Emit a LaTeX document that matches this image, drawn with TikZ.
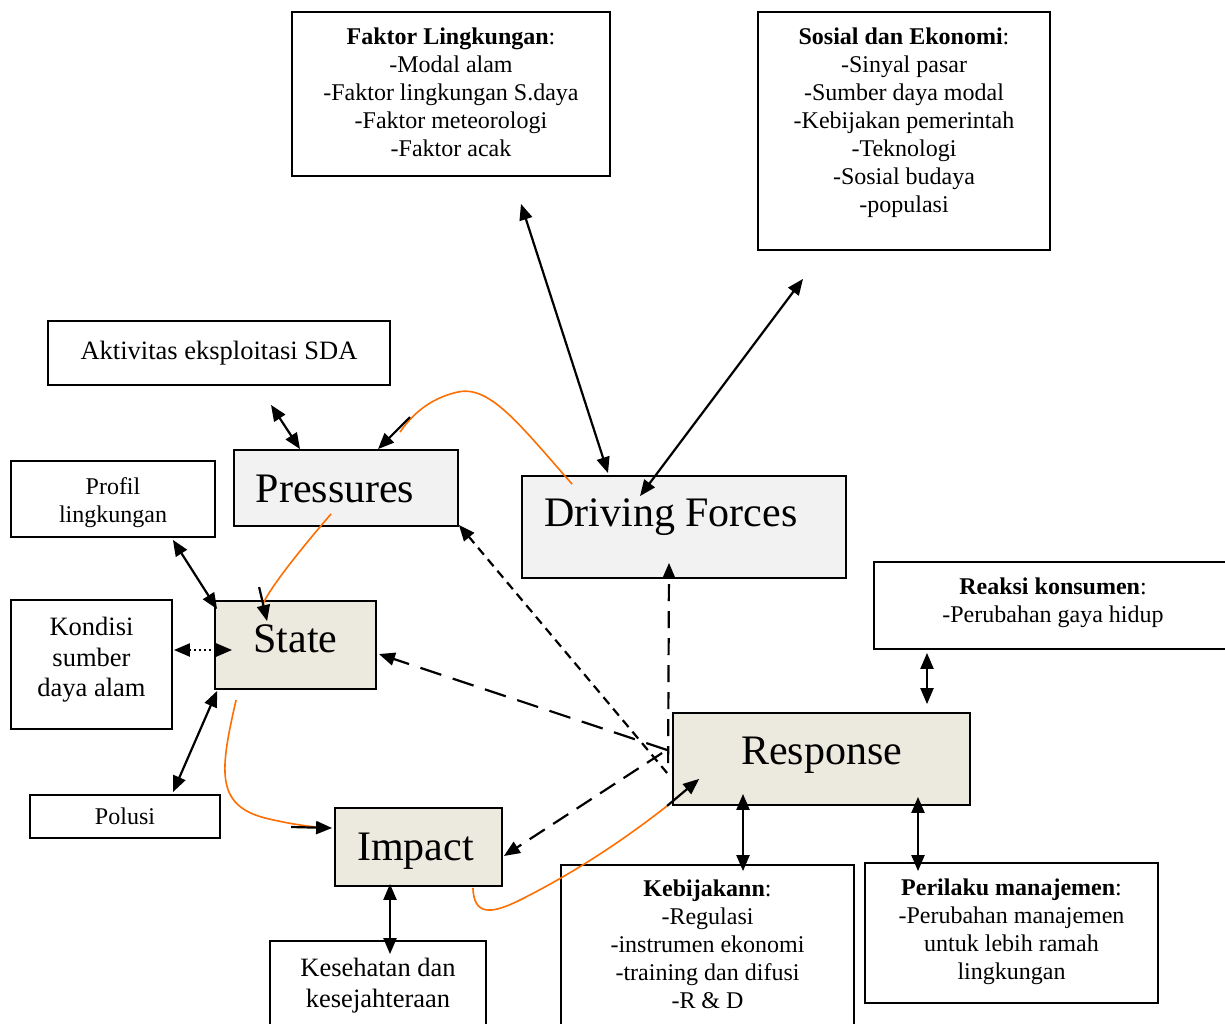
\documentclass[tikz,border=0pt]{standalone}
\usepackage{fontspec}
\setmainfont{Liberation Serif}
\usetikzlibrary{arrows.meta,calc}

\definecolor{boxgray}{RGB}{242,242,242}
\definecolor{boxtan}{RGB}{236,233,222}
\definecolor{curveorange}{RGB}{255,110,0}

\tikzset{
    box/.style={draw,line width=1.8pt,inner sep=0pt,rectangle},
    graybox/.style={box,fill=boxgray},
    tanbox/.style={box,fill=boxtan},
    txt/.style={font=\fontsize{24}{28}\selectfont,align=center,inner sep=0pt},
    midtxt/.style={font=\fontsize{26.5}{30.5}\selectfont,align=center,inner sep=0pt},
    bigtxt/.style={font=\fontsize{42}{48}\selectfont,inner sep=0pt},
    link/.style={line width=2.2pt,>={Triangle[length=16pt,width=13pt]}},
    orangeline/.style={line width=1.6pt,curveorange},
}

\begin{document}
\begin{tikzpicture}[x=1pt,y=-1pt]

\useasboundingbox (0,0) rectangle (1225,1024);

% Top boxes with their lists.
\node[box,minimum width=318pt,minimum height=164pt] (faktor) at (451,94) {};
\node[txt,anchor=north] (faktortxt) at ($(faktor.north)+(0,17)$)
    {\textbf{Faktor Lingkungan}:\\-Modal alam\\-Faktor lingkungan S.daya\\
     -Faktor meteorologi\\-Faktor acak};

\node[box,minimum width=292pt,minimum height=238pt] (sosial) at (904,131) {};
\node[txt,anchor=north] (sosialtxt) at ($(sosial.north)+(0,17)$)
    {\textbf{Sosial dan Ekonomi}:\\-Sinyal pasar\\-Sumber daya modal\\
     -Kebijakan pemerintah\\-Teknologi\\-Sosial budaya\\-populasi};

\node[box,midtxt,minimum width=342pt,minimum height=64pt] (aktivitas)
    at (219,353) {Aktivitas eksploitasi SDA};

% The five DPSIR boxes.
\node[graybox,minimum width=224pt,minimum height=76pt] (pressures) at (346,488) {};
\node[bigtxt] (pressurestxt) at ($(pressures.center)+(-11,1)$) {Pressures};

\node[graybox,minimum width=324pt,minimum height=102pt] (driving) at (684,527) {};
\node[bigtxt] (drivingtxt) at ($(driving.center)+(-13,-10)$) {Driving Forces};

\node[tanbox,minimum width=161pt,minimum height=88pt] (state) at (295.5,645) {};
\node[bigtxt] (statetxt) at ($(state.center)+(0,-6)$) {State};

\node[tanbox,minimum width=167pt,minimum height=78pt] (impact) at (418.5,847) {};
\node[bigtxt] (impacttxt) at ($(impact.center)+(-3,4)$) {Impact};

\node[tanbox,minimum width=297pt,minimum height=92pt] (response) at (821.5,759) {};
\node[bigtxt] (responsetxt) at ($(response.center)+(0,-4)$) {Response};

% Boxes round State and Impact.
\node[box,minimum width=204pt,minimum height=76pt] (profil) at (113,499) {};
\node[txt,anchor=north] (profiltxt) at ($(profil.north)+(0,17.5)$)
    {Profil\\lingkungan};

\node[box,minimum width=161pt,minimum height=129pt] (kondisi) at (91.5,664.5) {};
\node[midtxt,anchor=north] (kondisitxt) at ($(kondisi.north)+(0,18)$)
    {Kondisi\\sumber\\daya alam};

\node[box,txt,minimum width=190pt,minimum height=43pt] (polusi) at (125,816.5) {Polusi};

\node[box,minimum width=216pt,minimum height=99pt] (kesehatan) at (378,990.5) {};
\node[midtxt,anchor=north] (kesehatantxt) at ($(kesehatan.north)+(0,18)$)
    {Kesehatan dan\\kesejahteraan};

% Boxes round Response.
\node[box,minimum width=358pt,minimum height=87pt] (reaksi) at (1053,605.5) {};
\node[txt,anchor=north] (reaksitxt) at ($(reaksi.north)+(0,17)$)
    {\textbf{Reaksi konsumen}:\\-Perubahan gaya hidup};

\node[box,minimum width=293pt,minimum height=180pt] (kebijakan) at (707.5,955) {};
\node[txt,anchor=north] (kebijakantxt) at ($(kebijakan.north)+(0,16)$)
    {\textbf{Kebijakann}:\\-Regulasi\\-instrumen ekonomi\\
     -training dan difusi\\-R \& D};

\node[box,minimum width=293pt,minimum height=140pt] (perilaku) at (1011.5,933) {};
\node[txt,anchor=north] (perilakutxt) at ($(perilaku.north)+(0,17)$)
    {\textbf{Perilaku manajemen}:\\-Perubahan manajemen\\untuk lebih ramah\\lingkungan};

% Two-way arrows.
\draw[link,<->] ($(faktor.south)+(70,27)$) -- ($(driving.north)+(-76,-2)$);
\draw[link,<->] ($(sosial.south)+(-101,28)$) -- ($(driving.north)+(-44,21)$);
\draw[link,<->] ($(aktivitas.south)+(52,19)$) -- ($(pressures.north)+(-46,0)$);
\draw[link,<->] ($(profil.south east)+(-43,2)$) -- ($(state.north west)+(3,9)$);
\draw[link,<->,dash pattern=on 2pt off 3pt]
    ($(kondisi.east)+(1,-14.5)$) -- ($(state.west)+(18,5)$);
\draw[link,<->] ($(polusi.north)+(48,-2)$) -- ($(state.south west)+(3,1)$);
\draw[link,<->] ($(impact.south)+(-28.5,-3)$) -- ($(kesehatan.north)+(12,14)$);
\draw[link,<->] ($(reaksi.south)+(-126,3)$) -- ($(response.north)+(105.5,-8)$);
\draw[link,<->] ($(response.south)+(-78.5,-12)$) -- ($(kebijakan.north)+(35.5,7)$);
\draw[link,<->] ($(response.south)+(96.5,-9)$) -- ($(perilaku.north)+(-93.5,9)$);

% Dashed arrows out of Response.
\draw[link,->,dash pattern=on 9pt off 6pt]
    ($(response.west)+(-5,14)$) -- ($(pressures.south east)+(0,-2)$);
\draw[link,->,dash pattern=on 22pt off 12pt]
    ($(response.west)+(-5,-9)$) -- ($(state.east)+(2,9)$);
\draw[link,->,dash pattern=on 17pt off 10pt]
    ($(response.west)+(-4,4)$) -- ($(driving.south)+(-15,-16)$);
\draw[link,->,dash pattern=on 18pt off 10pt]
    ($(response.west)+(-10,-6)$) -- ($(impact.east)+(1,9)$);

% Orange cycle: Driving Forces to Pressures.
\coordinate (dfbend) at ($(pressures.north)+(54,-17)$);
\draw[orangeline] ($(driving.north west)+(51,9)$)
    .. controls (520,425) and (490,385) .. (458,392)
    .. controls (435,397) and (415,410) .. (dfbend);
\coordinate (dfstub) at ($(pressures.north)+(64,-32)$);
\draw[link,->] (dfstub) -- ($(pressures.north)+(32,0)$);

% Pressures to State.
\coordinate (psbend) at ($(state.north west)+(48,6)$);
\draw[orangeline] ($(pressures.south west)+(98,-13)$)
    .. controls (300,550) and (268,590) .. (psbend);
\coordinate (psstub) at ($(state.north west)+(45,-13)$);
\draw[link,->] (psstub) -- ($(state.north west)+(53,21)$);

% State to Impact.
\coordinate (sibend) at ($(impact.west)+(-4,-19)$);
\draw[orangeline] ($(state.south west)+(22,10)$)
    .. controls (220,770) and (215,805) .. (265,818)
    .. controls (290,824) and (310,827) .. (sibend);
\coordinate (sistub) at ($(impact.west)+(-43,-20)$);
\draw[link,->] (sistub) -- ($(impact.west)+(-2,-19)$);

% Impact to Response.
\coordinate (irstub) at ($(response.south west)+(-5,0)$);
\draw[orangeline] ($(impact.south east)+(-30,1)$)
    .. controls (474,915) and (490,915) .. (520,900)
    .. controls (580,870) and (630,835) .. (irstub);
\draw[link,->] (irstub) -- ($(response.south west)+(27,-27)$);

\end{tikzpicture}
\end{document}
